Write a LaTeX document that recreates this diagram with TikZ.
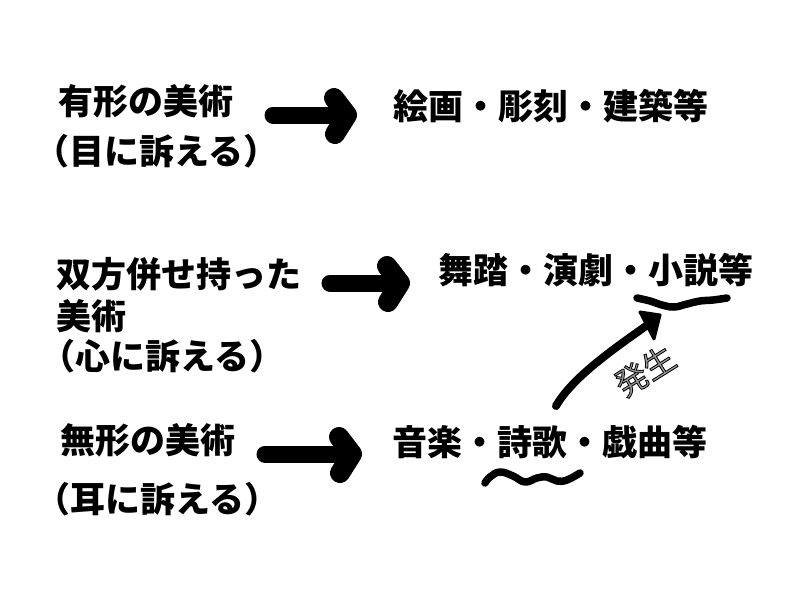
\documentclass[tikz,border=0pt]{standalone}
\usepackage{fontspec}
\setmainfont{Noto Sans CJK JP}
\newcommand\jpbig{\fontsize{35}{42}\selectfont\bfseries}
\newcommand\jpsmall{\fontsize{32}{38}\selectfont}
\newcommand\outlined[1]{\special{pdf:literal direct 0 G 0.8 w 2 Tr}#1\special{pdf:literal direct 0 Tr}}

\begin{document}
\begin{tikzpicture}[x=1pt, y=-1pt,
  every node/.style = {inner sep=0pt, anchor=west, font=\jpbig},
  fat/.style = {line width=17pt, line cap=round},
  fathead/.style = {line width=20pt, line cap=round, line join=round},
  wave/.style = {line width=7.5pt, line cap=round, line join=round}]
  \useasboundingbox[fill=white] (0,0) rectangle (800,600);
  % row 1
  \node (yukei) at (58,101) {有形の美術};
  \node (me) at (34,151) {（目に訴える）};
  \node (kaiga) at (393,106) {絵画・彫刻・建築等};
  \coordinate (a1s) at (273,115);
  \coordinate (a1t) at (347,115);
  \draw[fat] (a1s) -- (a1t);
  \draw[fathead] (a1t) ++(-13,-17) -- (a1t) -- ++(-12,19);
  % row 2
  \node (sohou) at (56,274) {双方併せ持った};
  \node (bijutsu) at (56,316) {美術};
  \node (kokoro) at (40,356) {（心に訴える）};
  \node (buto) at (438,270) {舞踏・演劇・小説等};
  \coordinate (a2s) at (330,283);
  \coordinate (a2t) at (400,283);
  \draw[fat] (a2s) -- (a2t);
  \draw[fathead] (a2t) ++(-13,-17) -- (a2t) -- ++(-12,19);
  \draw[wave] plot[smooth, tension=0.7] coordinates
    {(637,298) (650,301) (662,305) (674,307) (687,304) (700,301) (713,300) (727,298)};
  % row 3
  \node (mukei) at (60,440) {無形の美術};
  \node (mimi) at (35,499) {（耳に訴える）};
  \node (ongaku) at (392,442) {音楽・詩歌・戯曲等};
  \coordinate (a3s) at (265,454);
  \coordinate (a3t) at (352,454);
  \draw[fat] (a3s) -- (a3t);
  \draw[fathead] (a3t) ++(-13,-17) -- (a3t) -- ++(-12,19);
  \draw[wave] plot[smooth, tension=0.7] coordinates
    {(485,483) (490,477) (500,472) (513,476) (525,482) (537,478) (547,477) (557,481) (567,480) (580,473)};
  % hassei
  \coordinate (hs) at (556,406);
  \coordinate (ht) at (646,326);
  \draw[line width=8pt, line cap=round] (hs) .. controls (572,378) and (612,350) .. (ht);
  \filldraw[line width=3pt, line join=round] (640,312) -- (660,315) -- (654,339) -- cycle;
  \node[font=\jpsmall, text=black!40, anchor=center, rotate=32] (hassei) at (645,371) {\outlined{発生}};
\end{tikzpicture}
\end{document}
